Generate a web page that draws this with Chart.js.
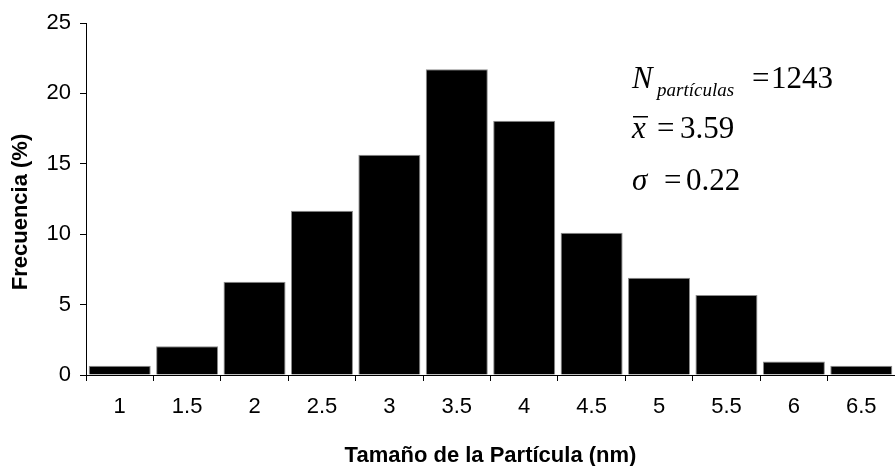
<!DOCTYPE html>
<html lang="es">

<head>
  <meta charset="UTF-8">
  <title>Distribución de tamaño de partícula</title>
  <script src="https://cdn.jsdelivr.net/npm/chart.js"></script>
  <style>
    body {
      margin: 0;
      background: #fff;
    }

    .chart-box {
      width: 895px;
      height: 466px;
    }
  </style>
</head>

<body>
  <div class="chart-box">
    <canvas id="histChart" width="895" height="466"></canvas>
  </div>

  <script>
    // Tamaño de partícula (nm) y frecuencia (%) de cada intervalo
    const tamanos = ['1', '1.5', '2', '2.5', '3', '3.5', '4', '4.5', '5', '5.5', '6', '6.5'];
    const frecuencia = [0.66, 2.04, 6.62, 11.66, 15.64, 21.72, 18.05, 10.1, 6.9, 5.68, 0.95, 0.66];
    const yTicks = [0, 5, 10, 15, 20, 25];

    // Estadísticos de la muestra
    const nParticulas = 1243;
    const media = 3.59;
    const sigma = 0.22;

    const sans = 'Liberation Sans, Arial, sans-serif';
    const serif = 'Liberation Serif, Times New Roman, serif';

    // Título del eje Y, algo más abajo que el centro del área del gráfico
    const yTitle = {
      id: 'yTitle',
      afterDraw(chart) {
        const ctx = chart.ctx;
        ctx.save();
        ctx.translate(21, 212);
        ctx.rotate(-Math.PI / 2);
        ctx.font = 'bold 22px ' + sans;
        ctx.fillStyle = '#000';
        ctx.textAlign = 'center';
        ctx.textBaseline = 'middle';
        ctx.fillText('Frecuencia (%)', 0, 0);
        ctx.restore();
      }
    };

    // Cuadro de estadísticos escrito a mano sobre el lienzo
    const statsBox = {
      id: 'statsBox',
      afterDraw(chart) {
        const ctx = chart.ctx;
        ctx.save();
        ctx.fillStyle = '#000';
        ctx.textBaseline = 'alphabetic';
        ctx.textAlign = 'left';

        // N_partículas = 1243
        ctx.font = 'italic 31px ' + serif;
        ctx.fillText('N', 632, 88);
        ctx.font = 'italic 19px ' + serif;
        ctx.fillText('partículas', 657, 96);
        ctx.font = '31px ' + serif;
        ctx.fillText('=', 752, 88);
        ctx.fillText(String(nParticulas), 771, 88);

        // x barra = 3.59
        ctx.font = 'italic 31px ' + serif;
        ctx.fillText('x', 632, 138);
        ctx.fillRect(633, 116, 15, 1.5);
        ctx.font = '31px ' + serif;
        ctx.fillText('=', 657, 138);
        ctx.fillText(media.toFixed(2), 680, 138);

        // sigma = 0.22
        ctx.font = 'italic 31px ' + serif;
        ctx.fillText('σ', 632, 190);
        ctx.font = '31px ' + serif;
        ctx.fillText('=', 664, 190);
        ctx.fillText(sigma.toFixed(2), 686, 190);
        ctx.restore();
      }
    };

    const ctx = document.getElementById('histChart').getContext('2d');
    const histChart = new Chart(ctx, {
      type: 'bar',
      data: {
        labels: tamanos,
        datasets: [{
          label: 'Frecuencia (%)',
          data: frecuencia,
          backgroundColor: '#000',
          borderColor: '#8c8c8c',
          borderWidth: 1,
          barPercentage: 0.92,
          categoryPercentage: 1.0
        }]
      },
      options: {
        responsive: false,
        animation: false,
        layout: {
          padding: { top: 23, right: -2, bottom: 0, left: 0 }
        },
        plugins: {
          legend: { display: false },
          tooltip: { enabled: false }
        },
        scales: {
          x: {
            grid: {
              display: true,
              drawOnChartArea: false,
              drawTicks: true,
              tickLength: 6,
              color: '#000'
            },
            border: { display: true, color: '#000', width: 1 },
            ticks: {
              color: '#000',
              font: { family: sans, size: 22 },
              padding: 13,
              maxRotation: 0
            },
            title: {
              display: true,
              text: 'Tamaño de la Partícula (nm)',
              color: '#000',
              font: { family: sans, size: 22, weight: 'bold', lineHeight: 0.9 },
              padding: { top: 0, bottom: 0 }
            },
            afterFit(scale) {
              scale.height = 91;
            }
          },
          y: {
            min: 0,
            max: 25,
            grid: {
              display: true,
              drawOnChartArea: false,
              drawTicks: true,
              tickLength: 6,
              color: '#000'
            },
            border: { display: true, color: '#000', width: 1 },
            ticks: {
              color: '#000',
              font: { family: sans, size: 22 },
              padding: 9,
              stepSize: 5
            },
            afterBuildTicks(scale) {
              scale.ticks = yTicks.map(v => ({ value: v }));
            },
            afterFit(scale) {
              scale.width = 86;
            }
          }
        }
      },
      plugins: [yTitle, statsBox]
    });
  </script>
</body>

</html>
